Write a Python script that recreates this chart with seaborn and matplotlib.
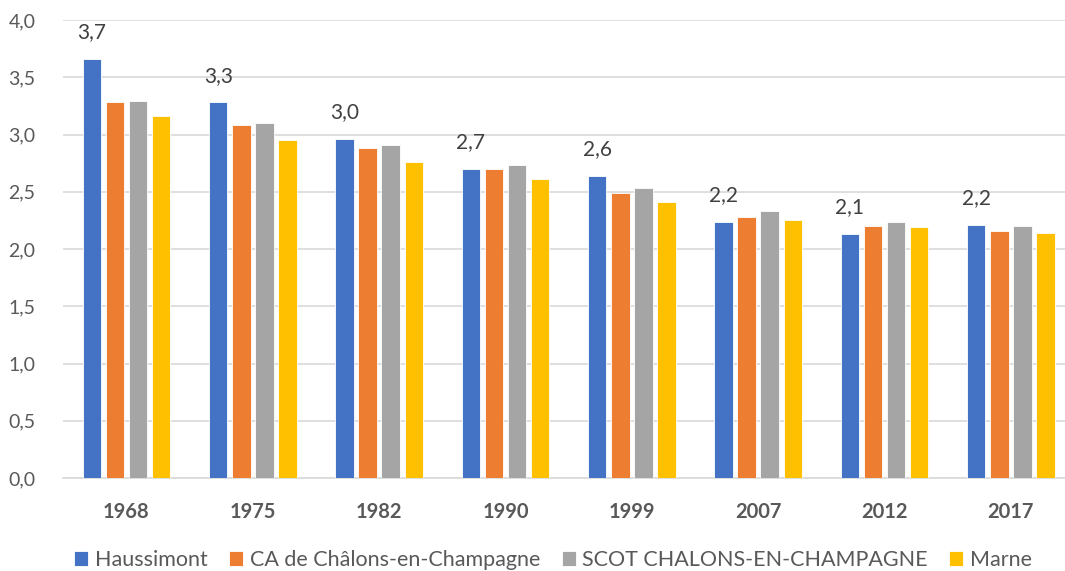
import matplotlib
matplotlib.use("Agg")
import matplotlib.pyplot as plt
import seaborn as sns
import pandas as pd
import numpy as np

# Taille moyenne des ménages
years = ["1968", "1975", "1982", "1990", "1999", "2007", "2012", "2017"]
haussimont = [3.66, 3.28, 2.96, 2.70, 2.64, 2.24, 2.13, 2.21]
ca_chalons = [3.28, 3.08, 2.88, 2.70, 2.49, 2.28, 2.20, 2.16]
scot_chalons = [3.29, 3.10, 2.91, 2.73, 2.53, 2.33, 2.24, 2.20]
marne = [3.16, 2.95, 2.76, 2.61, 2.41, 2.25, 2.19, 2.14]

series_names = ["Haussimont", "CA de Châlons-en-Champagne",
                "SCOT CHALONS-EN-CHAMPAGNE", "Marne"]
series_values = [haussimont, ca_chalons, scot_chalons, marne]
colors = ["#4472C4", "#ED7D31", "#A5A5A5", "#FFC000"]

df = pd.DataFrame({
    "annee": years * len(series_names),
    "zone": np.repeat(series_names, len(years)),
    "valeur": np.concatenate(series_values),
})

sns.set_theme(style="white")
plt.rcParams["font.family"] = ["Lato", "DejaVu Sans"]

fig = plt.figure(figsize=(10.65, 5.71), dpi=100)
ax = fig.add_axes([63.3 / 1065, 1 - 478 / 571, 1010.7 / 1065, 458 / 571])

sns.barplot(data=df, x="annee", y="valeur", hue="zone", order=years,
            hue_order=series_names, palette=colors, width=0.73, gap=0.2,
            edgecolor="white", linewidth=0.6, saturation=1, ax=ax,
            errorbar=None, legend=True, zorder=3)

ax.set_ylim(0, 4)
ax.set_xlim(-0.5, len(years) - 0.5)
ax.set_yticks(np.arange(0, 4.01, 0.5))
ax.set_yticklabels([f"{v:.1f}".replace(".", ",") for v in np.arange(0, 4.01, 0.5)])
ax.yaxis.grid(True, color="#D9D9D9", linewidth=1.2, zorder=0)
ax.set_axisbelow(True)
ax.set_xlabel("")
ax.set_ylabel("")

for side in ["top", "right", "left"]:
    ax.spines[side].set_visible(False)
ax.spines["bottom"].set_color("#D9D9D9")
ax.spines["bottom"].set_linewidth(1.2)

ax.tick_params(axis="y", length=0, labelsize=14, labelcolor="#595959", pad=20)
ax.tick_params(axis="x", which="major", length=0, labelsize=14.5,
               labelcolor="#595959", pad=17)
for lbl in ax.get_xticklabels():
    lbl.set_fontweight("bold")
ax.set_xticks(np.arange(-0.5, len(years), 1.0), minor=True)
ax.tick_params(axis="x", which="minor", length=7, width=1.2, color="#D9D9D9")

# Étiquettes de valeur sur la série Haussimont
first = ax.containers[0]
for bar, v in zip(first, haussimont):
    ax.annotate(f"{v:.1f}".replace(".", ","),
                (bar.get_x() + bar.get_width() / 2, bar.get_height()),
                xytext=(0, 12), textcoords="offset points",
                ha="center", va="bottom", fontsize=15, color="#404040")

handles, labels = ax.get_legend_handles_labels()
ax.get_legend().remove()
fig.legend(handles, labels, loc="center", ncol=4,
           bbox_to_anchor=(553 / 1065, 1 - 560 / 571), frameon=False,
           fontsize=15.5, handlelength=0.65, handleheight=0.65,
           handletextpad=0.3, columnspacing=1.0, labelcolor="#595959",
           borderpad=0, borderaxespad=0)

fig.savefig("out.png", dpi=100)
